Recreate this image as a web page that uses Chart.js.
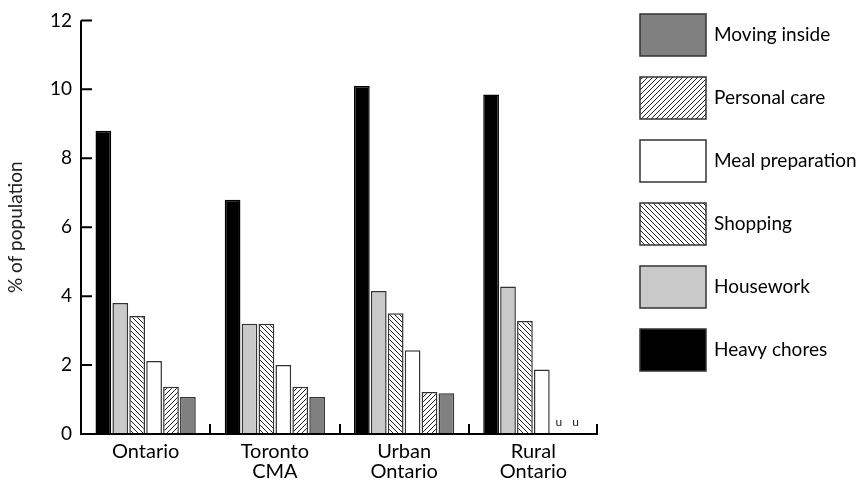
<!DOCTYPE html>
<html>
<head>
<meta charset="utf-8">
<script src="https://cdn.jsdelivr.net/npm/chart.js@4.4.0/dist/chart.umd.min.js"></script>
<style>
  html, body { margin: 0; padding: 0; background: #fff; }
  #wrap { width: 863px; height: 488px; position: relative; }
</style>
</head>
<body>
<div id="wrap"><canvas id="chart"></canvas></div>
<script>
// Data
const categories = [["Ontario"], ["Toronto", "CMA"], ["Urban", "Ontario"], ["Rural", "Ontario"]];
const heavyChores = [8.8, 6.8, 10.1, 9.85];
const housework = [3.8, 3.2, 4.15, 4.28];
const shopping = [3.42, 3.2, 3.5, 3.28];
const mealPrep = [2.12, 2.0, 2.43, 1.87];
const personalCare = [1.37, 1.37, 1.22, null];   // u = unreliable
const movingInside = [1.07, 1.07, 1.18, null];
const yTicks = [0, 2, 4, 6, 8, 10, 12];

const FONT = "Lato, 'Open Sans', sans-serif";

// hatch pattern, dir 1 = "/" , -1 = "\"
function hatch(dir) {
    const s = 5;
    const c = document.createElement("canvas");
    c.width = s; c.height = s;
    const g = c.getContext("2d");
    g.fillStyle = "#fff";
    g.fillRect(0, 0, s, s);
    g.strokeStyle = "#222";
    g.lineWidth = 1;
    g.beginPath();
    if (dir > 0) {
        g.moveTo(-1, s + 1); g.lineTo(s + 1, -1);
        g.moveTo(-1, 1); g.lineTo(1, -1);
        g.moveTo(s - 1, s + 1); g.lineTo(s + 1, s - 1);
    } else {
        g.moveTo(-1, -1); g.lineTo(s + 1, s + 1);
        g.moveTo(s - 1, -1); g.lineTo(s + 1, 1);
        g.moveTo(-1, s - 1); g.lineTo(1, s + 1);
    }
    g.stroke();
    return g.createPattern(c, "repeat");
}

const ctx = document.getElementById("chart").getContext("2d");

// axes drawn by hand: ticks point inward like the original
const axesPlugin = {
    id: "axes",
    afterDatasetsDraw(chart) {
        const { ctx, chartArea: a, scales } = chart;
        const y = scales.y;
        ctx.save();
        ctx.strokeStyle = "#000";
        ctx.lineWidth = 2;
        ctx.beginPath();
        ctx.moveTo(a.left, a.top); ctx.lineTo(a.left, a.bottom + 1);
        ctx.moveTo(a.left - 1, a.bottom); ctx.lineTo(a.right, a.bottom);
        yTicks.forEach(v => {
            const py = y.getPixelForValue(v);
            ctx.moveTo(a.left, py); ctx.lineTo(a.left + 11, py);
        });
        const n = categories.length;
        for (let i = 1; i <= n; i++) {
            const px = Math.round(a.left + (a.right - a.left) * i / n) - (i === n ? 1 : 0);
            ctx.moveTo(px, a.bottom); ctx.lineTo(px, a.bottom - 10);
        }
        ctx.stroke();

        // "u" markers for missing rural values
        ctx.fillStyle = "#222";
        ctx.font = "12px " + FONT;
        ctx.textAlign = "center";
        ctx.textBaseline = "middle";
        chart.data.datasets.forEach((ds, di) => {
            ds.data.forEach((v, ci) => {
                if (v === null) {
                    const el = chart.getDatasetMeta(di).data[ci];
                    ctx.fillText("u", el.x, a.bottom - 12);
                }
            });
        });
        ctx.restore();
    }
};

// legend on the right, top item = last dataset
const legendPlugin = {
    id: "sideLegend",
    afterDraw(chart) {
        const { ctx } = chart;
        const ds = chart.data.datasets.slice().reverse();
        ctx.save();
        ds.forEach((d, i) => {
            const top = 14 + i * 63;
            ctx.fillStyle = d.backgroundColor;
            ctx.fillRect(640, top, 66, 42);
            ctx.strokeStyle = "#333";
            ctx.lineWidth = 1.5;
            ctx.strokeRect(640, top, 66, 42);
            ctx.fillStyle = "#000";
            ctx.font = "19px " + FONT;
            ctx.textAlign = "left";
            ctx.textBaseline = "middle";
            ctx.fillText(d.label, 714, top + 21);
        });
        ctx.restore();
    }
};

function bar(label, data, fill, border) {
    return {
        label: label,
        data: data,
        backgroundColor: fill,
        borderColor: border,
        borderWidth: 1.5,
        borderSkipped: "bottom",
        barPercentage: 0.93,
        categoryPercentage: 0.785
    };
}

new Chart(ctx, {
    type: "bar",
    data: {
        labels: categories,
        datasets: [
            bar("Heavy chores", heavyChores, "#000", "#000"),
            bar("Housework", housework, "#c9c9c9", "#333"),
            bar("Shopping", shopping, hatch(-1), "#333"),
            bar("Meal preparation", mealPrep, "#fff", "#333"),
            bar("Personal care", personalCare, hatch(1), "#333"),
            bar("Moving inside", movingInside, "#808080", "#333")
        ]
    },
    options: {
        responsive: true,
        maintainAspectRatio: false,
        animation: false,
        layout: { padding: { top: 14, right: 265, left: 0, bottom: 0 } },
        plugins: {
            legend: { display: false },
            tooltip: { enabled: false }
        },
        scales: {
            x: {
                grid: { display: false, drawTicks: false },
                border: { display: false },
                ticks: { color: "#000", font: { family: FONT, size: 20, lineHeight: 1.0 }, padding: 8, maxRotation: 0 },
                afterFit: s => { s.height = 54; }
            },
            y: {
                min: 0,
                max: 12,
                grid: { display: false, drawTicks: false },
                border: { display: false },
                ticks: { stepSize: 2, color: "#000", font: { family: FONT, size: 19 }, padding: 9 },
                title: { display: true, text: "% of population", color: "#222", font: { family: FONT, size: 19 }, padding: { top: 4, bottom: 4 } },
                afterFit: s => { s.width = 81; }
            }
        }
    },
    plugins: [axesPlugin, legendPlugin]
});
</script>
</body>
</html>
